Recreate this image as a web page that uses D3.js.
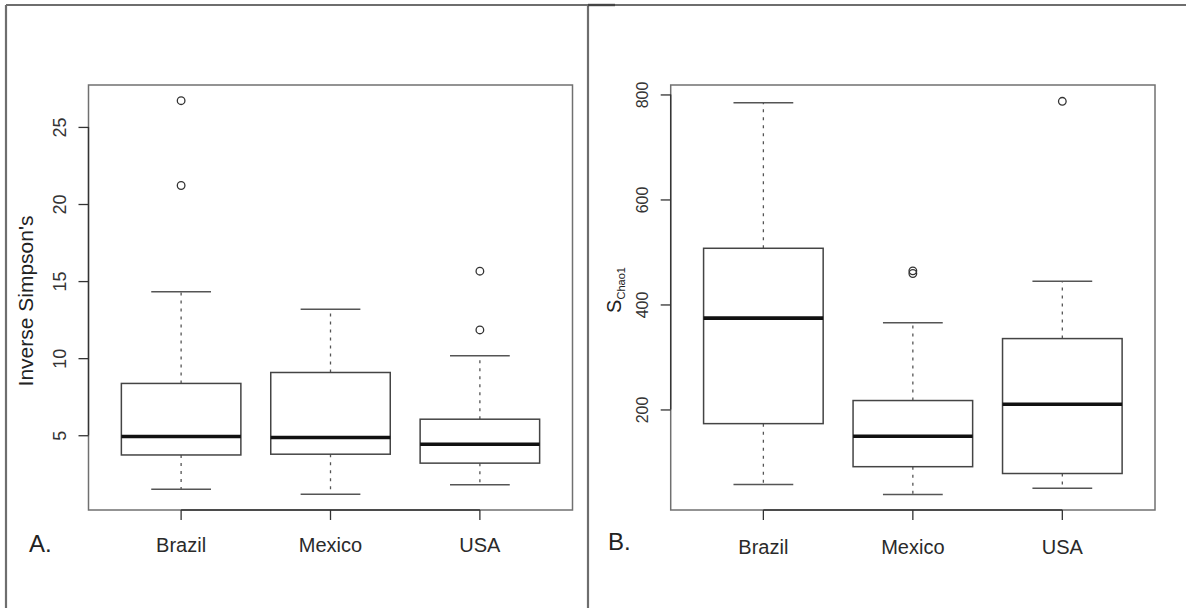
<!DOCTYPE html>
<html>
<head>
<meta charset="utf-8">
<script src="https://cdn.jsdelivr.net/npm/d3@7"></script>
<style>
  html, body { margin: 0; padding: 0; background: #fff; }
  svg { display: block; font-family: "Liberation Sans", Arial, Helvetica, sans-serif; }
</style>
</head>
<body>
<svg id="chart" width="1186" height="608"></svg>
<script>
// ---- Data ----
const categories = ["Brazil", "Mexico", "USA"];

// Panel A: Inverse Simpson's  (five-number summaries per country)
const invSimpsonWhiskerLow  = [1.49, 1.17, 1.78];
const invSimpsonQ1          = [3.72, 3.77, 3.19];
const invSimpsonMedian      = [4.92, 4.85, 4.42];
const invSimpsonQ3          = [8.36, 9.07, 6.04];
const invSimpsonWhiskerHigh = [14.3, 13.18, 10.15];
const invSimpsonOutliers    = [[26.7, 21.2], [], [15.64, 11.83]];
const invSimpsonTicks       = [5, 10, 15, 20, 25];
const invSimpsonDomain      = [0.15, 27.72];

// Panel B: S_Chao1
const chaoWhiskerLow  = [57, 38, 50];
const chaoQ1          = [173, 91, 78];
const chaoMedian      = [374, 149, 210];
const chaoQ3          = [507, 217, 335];
const chaoWhiskerHigh = [784, 365, 444];
const chaoOutliers    = [[], [459, 464], [787]];
const chaoTicks       = [200, 400, 600, 800];
const chaoDomain      = [8.5, 818];

// ---- Drawing ----
const svg = d3.select("#chart");

// outer frames
const frame = svg.append("g").attr("fill", "none").attr("stroke", "#6e6e6e").attr("stroke-width", 2.2);
frame.append("line").attr("x1", 6).attr("x2", 1186).attr("y1", 5).attr("y2", 5);
frame.append("line").attr("x1", 6).attr("x2", 6).attr("y1", 5).attr("y2", 608);
frame.append("line").attr("x1", 588).attr("x2", 588).attr("y1", 5).attr("y2", 608);
svg.append("line").attr("x1", 588).attr("x2", 615).attr("y1", 5).attr("y2", 5)
   .attr("stroke", "#444").attr("stroke-width", 2.4);

function drawPanel(cfg) {
  const g = svg.append("g");
  const x = d3.scaleBand().domain(categories)
      .range([cfg.left, cfg.right]).paddingInner(0.2).paddingOuter(0.22);
  const y = d3.scaleLinear().domain(cfg.domain).range([cfg.bottom, cfg.top]);
  const bw = x.bandwidth();
  const cx = c => x(c) + bw / 2;

  const rows = categories.map((c, i) => ({
    c, lo: cfg.lo[i], q1: cfg.q1[i], med: cfg.med[i], q3: cfg.q3[i], hi: cfg.hi[i], out: cfg.out[i]
  }));

  // whiskers (dashed)
  const wg = g.append("g").attr("stroke", "#555").attr("stroke-width", 1.3).attr("stroke-dasharray", "3,5");
  rows.forEach(r => {
    wg.append("line").attr("x1", cx(r.c)).attr("x2", cx(r.c)).attr("y1", y(r.q3)).attr("y2", y(r.hi));
    wg.append("line").attr("x1", cx(r.c)).attr("x2", cx(r.c)).attr("y1", y(r.q1)).attr("y2", y(r.lo));
  });
  // caps
  const cg = g.append("g").attr("stroke", "#555").attr("stroke-width", 1.5);
  rows.forEach(r => {
    [r.lo, r.hi].forEach(v => {
      cg.append("line").attr("x1", cx(r.c) - bw / 4).attr("x2", cx(r.c) + bw / 4)
        .attr("y1", y(v)).attr("y2", y(v));
    });
  });
  // boxes
  g.append("g").selectAll("rect").data(rows).join("rect")
    .attr("x", d => x(d.c)).attr("width", bw)
    .attr("y", d => y(d.q3)).attr("height", d => y(d.q1) - y(d.q3))
    .attr("fill", "#fff").attr("stroke", "#444").attr("stroke-width", 1.5);
  // medians
  g.append("g").selectAll("line").data(rows).join("line")
    .attr("x1", d => x(d.c)).attr("x2", d => x(d.c) + bw)
    .attr("y1", d => y(d.med)).attr("y2", d => y(d.med))
    .attr("stroke", "#111").attr("stroke-width", 3.6);
  // outliers
  rows.forEach(r => {
    g.append("g").selectAll("circle").data(r.out).join("circle")
      .attr("cx", cx(r.c)).attr("cy", d => y(d)).attr("r", 3.8)
      .attr("fill", "none").attr("stroke", "#333").attr("stroke-width", 1.3);
  });

  // plot box
  g.append("rect").attr("x", cfg.left).attr("y", cfg.top)
    .attr("width", cfg.right - cfg.left).attr("height", cfg.bottom - cfg.top)
    .attr("fill", "none").attr("stroke", "#707070").attr("stroke-width", 1.5);

  // y axis
  const ya = g.append("g").attr("transform", `translate(${cfg.left},0)`)
    .call(d3.axisLeft(y).tickValues(cfg.ticks).tickSize(10).tickSizeOuter(0).tickFormat(d3.format("d")));
  ya.select(".domain").remove();
  ya.append("line").attr("x1", 0).attr("x2", 0)
    .attr("y1", y(cfg.ticks[0])).attr("y2", y(cfg.ticks[cfg.ticks.length - 1]))
    .attr("stroke", "#333").attr("stroke-width", 1.3);
  ya.selectAll(".tick line").attr("stroke", "#333").attr("stroke-width", 1.3);
  ya.selectAll(".tick text")
    .attr("x", null).attr("dy", null)
    .attr("transform", `translate(${cfg.tickLabelX - cfg.left},0) rotate(-90)`)
    .attr("text-anchor", "middle").attr("font-size", cfg.tickFont).attr("fill", "#333")
    .attr("font-family", "Liberation Sans, Arial, sans-serif");

  // x axis
  const xa = g.append("g").attr("transform", `translate(0,${cfg.bottom})`)
    .call(d3.axisBottom(x).tickSize(10).tickSizeOuter(0));
  xa.select(".domain").remove();
  xa.append("line").attr("x1", cx(categories[0])).attr("x2", cx(categories[categories.length - 1]))
    .attr("y1", 0).attr("y2", 0).attr("stroke", "#333").attr("stroke-width", 1.5);
  xa.selectAll(".tick line").attr("stroke", "#333").attr("stroke-width", 1.3);
  xa.selectAll(".tick text").attr("y", cfg.xLabelBase - cfg.bottom).attr("dy", null)
    .attr("font-size", 20).attr("fill", "#2a2a2a")
    .attr("font-family", "Liberation Sans, Arial, sans-serif");

  // panel letter
  g.append("text").attr("x", cfg.letterX).attr("y", cfg.letterY)
    .attr("font-size", 24).attr("fill", "#222").text(cfg.letter);

  return g;
}

const gA = drawPanel({
  left: 88.5, right: 572.5, top: 85, bottom: 510,
  domain: invSimpsonDomain, ticks: invSimpsonTicks,
  lo: invSimpsonWhiskerLow, q1: invSimpsonQ1, med: invSimpsonMedian, q3: invSimpsonQ3, hi: invSimpsonWhiskerHigh,
  out: invSimpsonOutliers, tickLabelX: 66, tickFont: 18, xLabelBase: 552,
  letter: "A.", letterX: 29, letterY: 552
});
gA.append("text").attr("transform", "translate(33,301) rotate(-90)")
  .attr("text-anchor", "middle").attr("font-size", 21).attr("fill", "#222")
  .text("Inverse Simpson's");

const gB = drawPanel({
  left: 670.7, right: 1155, top: 85, bottom: 510,
  domain: chaoDomain, ticks: chaoTicks,
  lo: chaoWhiskerLow, q1: chaoQ1, med: chaoMedian, q3: chaoQ3, hi: chaoWhiskerHigh,
  out: chaoOutliers, tickLabelX: 648, tickFont: 16, xLabelBase: 554,
  letter: "B.", letterX: 608, letterY: 550
});
const lab = gB.append("text").attr("transform", "translate(621,290) rotate(-90)")
  .attr("text-anchor", "middle").attr("fill", "#222");
lab.append("tspan").attr("font-size", 20).text("S");
lab.append("tspan").attr("font-size", 11).attr("dy", 4).text("Chao1");
</script>
</body>
</html>
